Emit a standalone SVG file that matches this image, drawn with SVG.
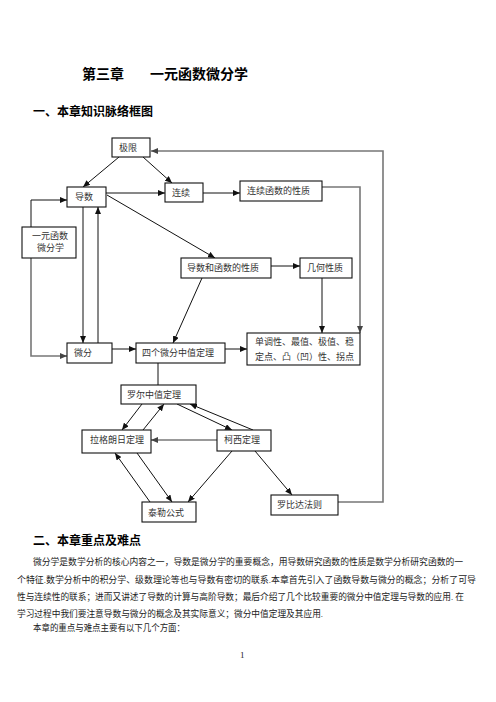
<svg xmlns="http://www.w3.org/2000/svg" width="496" height="702" viewBox="0 0 496 702">
<defs>
<marker id="ah" markerWidth="7" markerHeight="6" refX="7" refY="3" orient="auto" markerUnits="userSpaceOnUse"><path d="M0,0 L7,3 L0,6 z" fill="#111"/></marker>
<marker id="ahg" markerWidth="7" markerHeight="6" refX="7" refY="3" orient="auto" markerUnits="userSpaceOnUse"><path d="M0,0 L7,3 L0,6 z" fill="#444"/></marker>
<style>
.b{fill:#fff;stroke:#111;stroke-width:1.1}
.t{font-family:"Liberation Serif","Noto Sans CJK SC",serif;font-size:9px;fill:#333}
.h{font-family:"Liberation Sans","Noto Sans CJK SC",sans-serif;font-weight:bold;fill:#000}
.p{font-family:"Liberation Serif","Noto Sans CJK SC",serif;font-size:9px;fill:#222}
.c{fill:none;stroke:#111;stroke-width:1;marker-end:url(#ah)}
.g{fill:none;stroke:#777;stroke-width:1.6;marker-end:url(#ahg)}
.n{fill:none;stroke:#111;stroke-width:1}
</style>
</defs>
<rect width="496" height="702" fill="#fff"/>
<text class="h" x="82" y="79" font-size="14">第三章</text>
<text class="h" x="150" y="79" font-size="14">一元函数微分学</text>
<text class="h" x="33" y="116" font-size="12">一、本章知识脉络框图</text>

<g id="connectors">
<polyline class="g" points="338,502 383,502 383,151 151,151"/>
<polyline class="g" points="322,187 360,187 360,333"/>
<line class="c" x1="322" y1="278" x2="322" y2="333"/>
<line class="c" x1="271" y1="266" x2="300" y2="266"/>
<line class="c" x1="202" y1="278" x2="173" y2="343"/>
<line class="c" x1="119" y1="157" x2="83" y2="187"/>
<line class="c" x1="143" y1="157" x2="172" y2="183"/>
<line class="c" x1="106" y1="193" x2="165" y2="193"/>
<line class="c" x1="203" y1="193" x2="240" y2="193"/>
<line class="c" x1="107" y1="195" x2="215" y2="258"/>
<polyline class="c" points="31,227 31,200 67,200"/>
<polyline class="g" points="31,258 31,356 67,356"/>
<line class="c" x1="83" y1="207" x2="83" y2="343"/>
<line class="c" x1="98" y1="343" x2="98" y2="207"/>
<line class="c" x1="112" y1="349" x2="136" y2="349"/>
<line class="c" x1="225" y1="349" x2="247" y2="349"/>
<line class="n" x1="158" y1="363" x2="158" y2="385"/>
<line class="c" x1="142" y1="404" x2="122" y2="430"/>
<line class="c" x1="143" y1="430" x2="164" y2="404"/>
<line class="c" x1="177" y1="404" x2="232" y2="430"/>
<line class="c" x1="253" y1="430" x2="190" y2="404"/>
<line class="g" x1="217" y1="440" x2="151" y2="440"/>
<line class="c" x1="137" y1="453" x2="172" y2="502"/>
<line class="c" x1="150" y1="502" x2="115" y2="453"/>
<line class="c" x1="232" y1="451" x2="188" y2="502"/>
<line class="c" x1="255" y1="451" x2="292" y2="495"/>
</g>

<g id="jixian"><rect class="b" x="112" y="138" width="38" height="19"/><text class="t" x="119" y="151">极限</text></g>
<g id="daoshu"><rect class="b" x="67" y="187" width="39" height="20"/><text class="t" x="75" y="200">导数</text></g>
<g id="lianxu"><rect class="b" x="165" y="183" width="38" height="19"/><text class="t" x="172" y="196">连续</text></g>
<g id="lxhsxz"><rect class="b" x="240" y="181" width="82" height="20"/><text class="t" x="247" y="194">连续函数的性质</text></g>
<g id="yiyuan"><rect class="b" x="22" y="227" width="54" height="31"/><text class="t" x="32" y="239">一元函数</text><text class="t" x="37" y="251">微分学</text></g>
<g id="dshsxz"><rect class="b" x="181" y="258" width="90" height="20"/><text class="t" x="187" y="271">导数和函数的性质</text></g>
<g id="jihe"><rect class="b" x="300" y="258" width="52" height="20"/><text class="t" x="307" y="271">几何性质</text></g>
<g id="weifen"><rect class="b" x="67" y="343" width="45" height="20"/><text class="t" x="74" y="356">微分</text></g>
<g id="sige"><rect class="b" x="136" y="343" width="89" height="20"/><text class="t" x="142" y="356">四个微分中值定理</text></g>
<g id="dandiao"><rect class="b" x="247" y="333" width="113" height="32"/><text class="t" x="255" y="345">单调性、最值、极值、稳</text><text class="t" x="255" y="360">定点、凸（凹）性、拐点</text></g>
<g id="luoer"><rect class="b" x="121" y="385" width="75" height="19"/><text class="t" x="127" y="398">罗尔中值定理</text></g>
<g id="lagelangri"><rect class="b" x="82" y="430" width="69" height="23"/><text class="t" x="90" y="443">拉格朗日定理</text></g>
<g id="kexi"><rect class="b" x="217" y="430" width="54" height="21"/><text class="t" x="224" y="443">柯西定理</text></g>
<g id="taile"><rect class="b" x="142" y="502" width="54" height="20"/><text class="t" x="148" y="516">泰勒公式</text></g>
<g id="luobida"><rect class="b" x="271" y="495" width="67" height="20"/><text class="t" x="277" y="508">罗比达法则</text></g>

<text class="h" x="33" y="545" font-size="12">二、本章重点及难点</text>
<text class="p" x="33" y="565" textLength="430" lengthAdjust="spacingAndGlyphs">微分学是数学分析的核心内容之一，导数是微分学的重要概念，用导数研究函数的性质是数学分析研究函数的一</text>
<text class="p" x="17" y="583" textLength="459" lengthAdjust="spacingAndGlyphs">个特征.数学分析中的积分学、级数理论等也与导数有密切的联系.本章首先引入了函数导数与微分的概念；分析了可导</text>
<text class="p" x="17" y="600" textLength="447" lengthAdjust="spacingAndGlyphs">性与连续性的联系；进而又讲述了导数的计算与高阶导数；最后介绍了几个比较重要的微分中值定理与导数的应用. 在</text>
<text class="p" x="17" y="617" textLength="306" lengthAdjust="spacingAndGlyphs">学习过程中我们要注意导数与微分的概念及其实际意义；微分中值定理及其应用.</text>
<text class="p" x="33" y="631" textLength="152" lengthAdjust="spacingAndGlyphs">本章的重点与难点主要有以下几个方面：</text>
<text class="p" x="240" y="658" font-size="7">1</text>
</svg>
